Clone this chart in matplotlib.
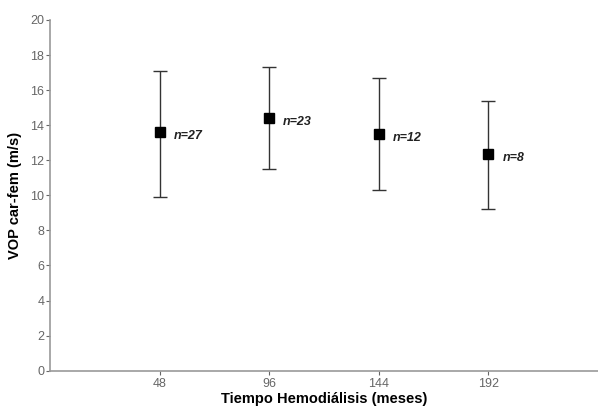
import matplotlib.pyplot as plt

# datos
meses = [48, 96, 144, 192]
vop_media = [13.6, 14.4, 13.5, 12.35]
vop_sup = [17.1, 17.3, 16.7, 15.4]
vop_inf = [9.9, 11.5, 10.3, 9.25]
n_labels = ["n=27", "n=23", "n=12", "n=8"]

plt.rcParams['font.family'] = ['Liberation Sans', 'DejaVu Sans']

fig = plt.figure(figsize=(5.98, 4.08), dpi=100)
ax = fig.add_axes([0.0836, 0.0914, 0.9164, 0.8596])

err_low = [m - lo for m, lo in zip(vop_media, vop_inf)]
err_up = [hi - m for m, hi in zip(vop_media, vop_sup)]

ax.errorbar(meses, vop_media, yerr=[err_low, err_up], fmt='s', color='black',
            ecolor='#333333', elinewidth=1, capsize=5, capthick=1, markersize=7.5)

for x, y, lab in zip(meses, vop_media, n_labels):
    ax.annotate(lab, (x, y), xytext=(10, -3), textcoords='offset points',
                fontsize=9, fontweight='bold', fontstyle='italic', color='#222222',
                va='center', ha='left')

ax.set_xlim(0, 240)
ax.set_ylim(0, 20)
ax.set_xticks(meses)
ax.set_yticks(range(0, 21, 2))

for s in ['top', 'right']:
    ax.spines[s].set_visible(False)
for s in ['left', 'bottom']:
    ax.spines[s].set_color('#999999')
    ax.spines[s].set_linewidth(1.2)

ax.tick_params(colors='#666666', labelsize=9, length=3, pad=2)
ax.tick_params(axis='y', pad=1)

ax.set_xlabel("Tiempo Hemodiálisis (meses)", fontsize=10.5, fontweight='bold', labelpad=2)
ax.set_ylabel("VOP car-fem (m/s)", fontsize=10.5, fontweight='bold', labelpad=6)

fig.savefig("out.png", dpi=100)
